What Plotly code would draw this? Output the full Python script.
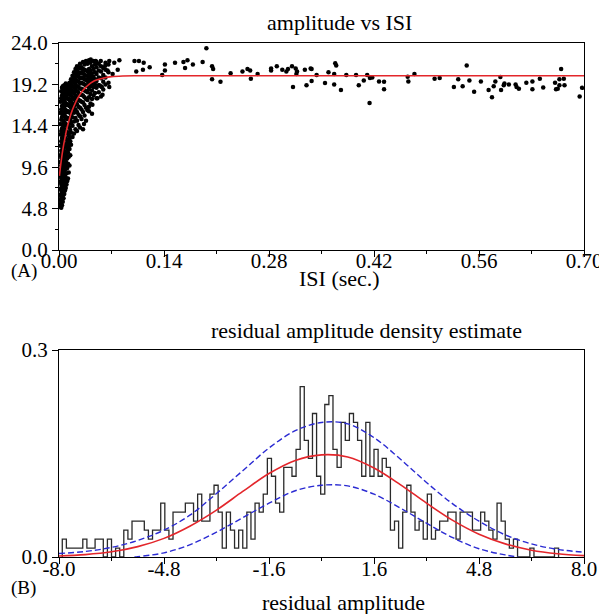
import plotly.graph_objects as go

# ---------------- Panel A data: amplitude vs ISI ----------------
cluster_isi = [0.002, 0.003, 0.004, 0.005, 0.006, 0.007, 0.008, 0.009, 0.010, 0.011,
               0.012, 0.013, 0.014, 0.015, 0.016, 0.018, 0.020, 0.022, 0.024, 0.026,
               0.028, 0.030, 0.032, 0.034, 0.036, 0.038, 0.040, 0.042, 0.044, 0.046,
               0.048, 0.050, 0.053, 0.056, 0.059, 0.062, 0.066]
cluster_amp = [
    [5.0, 5.3, 5.8, 6.4, 7.1, 7.9, 8.6, 9.3, 10.2, 11.0, 12.1, 13.4, 14.6, 15.9, 17.2],
    [4.9, 5.5, 6.1, 6.9, 7.6, 8.3, 9.0, 9.8, 10.7, 11.5, 12.6, 13.8, 15.1, 16.3, 17.6, 18.4],
    [5.2, 6.0, 6.7, 7.4, 8.1, 8.8, 9.6, 10.4, 11.3, 12.2, 13.0, 14.1, 15.4, 16.7, 17.9, 18.8],
    [5.6, 6.3, 7.2, 8.0, 8.7, 9.5, 10.1, 11.0, 11.8, 12.7, 13.6, 14.5, 15.6, 16.4, 17.3, 18.2, 19.0],
    [6.0, 6.8, 7.7, 8.5, 9.2, 10.0, 10.8, 11.6, 12.4, 13.3, 14.2, 15.0, 15.9, 16.9, 17.7, 18.5],
    [6.5, 7.3, 8.2, 9.0, 9.9, 10.6, 11.4, 12.3, 13.1, 14.0, 14.8, 15.7, 16.6, 17.4, 18.3, 19.1],
    [6.9, 7.8, 8.7, 9.6, 10.5, 11.3, 12.1, 13.0, 13.9, 14.7, 15.5, 16.3, 17.1, 18.0, 18.8],
    [7.2, 8.4, 9.4, 10.3, 11.2, 12.0, 12.9, 13.8, 14.6, 15.4, 16.2, 17.0, 17.8, 18.6, 19.3],
    [7.6, 8.9, 9.9, 11.0, 12.0, 12.8, 13.7, 14.5, 15.3, 16.1, 16.9, 17.7, 18.5, 19.2],
    [8.0, 9.5, 10.6, 11.7, 12.7, 13.6, 14.4, 15.2, 16.0, 16.8, 17.6, 18.4, 19.0],
    [8.3, 10.0, 11.3, 12.4, 13.5, 14.4, 15.3, 16.1, 16.9, 17.5, 18.1, 18.9],
    [9.0, 10.8, 12.1, 13.3, 14.3, 15.2, 16.0, 16.8, 17.5, 18.2, 18.8],
    [9.8, 11.7, 13.0, 14.2, 15.1, 16.0, 16.7, 17.4, 18.1, 18.7, 19.4],
    [11.0, 12.6, 13.9, 15.0, 15.9, 16.7, 17.4, 18.0, 18.6, 19.3],
    [12.2, 13.6, 14.7, 15.7, 16.5, 17.2, 17.9, 18.5, 19.1, 19.8],
    [13.1, 14.4, 15.4, 16.3, 17.0, 17.7, 18.4, 19.0, 19.6, 20.2],
    [13.5, 14.9, 15.9, 16.7, 17.5, 18.2, 18.8, 19.4, 20.0, 20.6],
    [14.0, 15.3, 16.3, 17.1, 17.9, 18.6, 19.2, 19.8, 20.4, 21.0],
    [13.8, 15.0, 16.0, 16.9, 17.7, 18.4, 19.0, 19.6, 20.2, 20.8, 21.3],
    [14.5, 15.7, 16.6, 17.4, 18.2, 18.9, 19.5, 20.1, 20.6, 21.2],
    [14.2, 15.5, 16.5, 17.3, 18.0, 18.7, 19.3, 19.9, 20.5, 21.1, 21.6],
    [15.2, 16.3, 17.2, 18.0, 18.7, 19.4, 20.0, 20.6, 21.2],
    [14.0, 16.0, 17.1, 17.9, 18.6, 19.3, 19.9, 20.5, 21.0, 21.8],
    [15.6, 16.8, 17.7, 18.5, 19.2, 19.8, 20.3, 20.9, 21.5],
    [15.0, 16.5, 17.5, 18.4, 19.1, 19.7, 20.2, 20.8, 21.9],
    [16.2, 17.4, 18.3, 19.0, 19.6, 20.2, 20.7, 21.6],
    [16.6, 17.7, 18.6, 19.3, 19.9, 20.4, 21.0, 22.0],
    [17.0, 18.1, 19.0, 19.6, 20.2, 20.8, 21.7],
    [15.8, 17.5, 18.5, 19.3, 19.9, 20.5, 21.3],
    [17.9, 18.9, 19.5, 20.1, 21.0, 21.9],
    [18.2, 19.2, 19.8, 20.6, 21.5],
    [17.6, 18.8, 19.6, 20.4, 21.2, 21.8],
    [18.3, 19.1, 20.0, 20.8, 21.6],
    [17.8, 19.0, 19.9, 20.7, 21.3],
    [18.6, 19.5, 20.3, 21.1],
    [19.2, 20.0, 20.9, 21.7],
    [19.4, 20.6, 21.5],
]

sparse_isi = [0.0423, 0.0490, 0.0557, 0.0670, 0.0737, 0.0805, 0.0616, 0.0647, 0.0715, 0.0783,
              0.0535, 0.0571, 0.0670, 0.0580, 0.0512, 0.0445, 0.0378, 0.0400, 0.0333,
              0.1007, 0.1066, 0.1129, 0.1030, 0.1119, 0.1209, 0.1412, 0.1412, 0.1376, 0.1547,
              0.1659, 0.1713, 0.1785, 0.1681, 0.1915, 0.1965, 0.2041, 0.2055, 0.2041, 0.2153,
              0.2288, 0.2446, 0.2513, 0.2549, 0.2558, 0.2648,
              0.2828, 0.2828, 0.2904, 0.2977, 0.3031, 0.3053, 0.3107, 0.3156, 0.3174, 0.3165,
              0.3278, 0.3355, 0.3368, 0.3435, 0.3593, 0.3669, 0.3683, 0.3696, 0.3831, 0.3961,
              0.4109, 0.4146, 0.4177, 0.3120, 0.3300, 0.3368, 0.3547, 0.3669, 0.3759, 0.3997,
              0.4064, 0.4267, 0.4334, 0.4334, 0.4141, 0.4649, 0.4658, 0.4739,
              0.5008, 0.5076, 0.5265, 0.5323, 0.5382, 0.5436, 0.5472, 0.5535, 0.5625, 0.5728,
              0.5773, 0.5796, 0.5818, 0.5885, 0.5894, 0.5930, 0.5939, 0.5998, 0.6088, 0.6101,
              0.6132, 0.6231, 0.6312, 0.6312, 0.6411, 0.6456, 0.6614, 0.6627, 0.6650, 0.6672,
              0.6695, 0.6731, 0.6740, 0.6672, 0.6942, 0.6974]
sparse_amp = [22.1, 21.9, 21.9, 21.9, 21.7, 22.0, 21.35, 20.8, 20.4, 20.9,
              19.1, 18.9, 18.9, 18.0, 17.6, 16.85, 16.5, 16.1, 14.6,
              21.9, 21.9, 21.7, 20.7, 20.9, 21.2, 21.5, 20.8, 20.3, 21.7,
              21.8, 22.0, 21.5, 21.1, 21.8, 23.4, 21.3, 21.0, 19.8, 19.5,
              20.5, 20.7, 21.0, 20.8, 19.85, 20.4,
              21.05, 20.8, 21.3, 20.9, 20.7, 21.0, 21.3, 21.05, 20.7, 20.4,
              20.9, 21.05, 21.0, 20.3, 20.6, 20.4, 21.65, 21.4, 20.3, 20.3,
              20.3, 19.95, 20.0, 18.9, 19.1, 19.6, 19.35, 19.2, 18.55, 19.1,
              19.65, 19.55, 19.5, 18.65, 17.05, 20.1, 19.55, 20.4,
              19.85, 19.95, 18.9, 19.8, 19.0, 21.4, 19.65, 18.35, 19.55, 18.55,
              17.7, 19.0, 19.55, 20.05, 18.55, 19.1, 19.3, 19.2, 19.2, 18.9,
              18.7, 19.4, 19.55, 18.65, 19.85, 18.85, 19.4, 18.65, 18.7, 19.8,
              21.0, 19.85, 19.1, 19.1, 17.8, 18.8]

fit_isi = [0.0005, 0.002, 0.004, 0.006, 0.008, 0.010, 0.013, 0.016, 0.020, 0.025,
           0.030, 0.035, 0.040, 0.045, 0.050, 0.060, 0.070, 0.085, 0.100, 0.700]
fit_amp = [8.6, 9.7, 11.0, 12.1, 13.0, 13.9, 14.9, 15.8, 16.7, 17.6,
           18.3, 18.8, 19.2, 19.5, 19.7, 19.95, 20.1, 20.18, 20.2, 20.2]

top_x_ticks = [0.0, 0.14, 0.28, 0.42, 0.56, 0.70]
top_x_labels = ["0.00", "0.14", "0.28", "0.42", "0.56", "0.70"]
top_y_ticks = [0.0, 4.8, 9.6, 14.4, 19.2, 24.0]
top_y_labels = ["0.0", "4.8", "9.6", "14.4", "19.2", "24.0"]

# ---------------- Panel B data: residual density ----------------
bin_start = -7.9
bin_width = 0.125
density_per_count = 0.013
hist_counts = [2, 1, 1, 1, 1, 2, 1, 1, 2, 2, 0, 2, 0, 1, 0, 3, 2, 4, 4, 4, 3, 2, 3, 3, 6, 3, 2, 5, 5, 5, 6,
               6, 4, 7, 4, 4, 7, 8, 5, 1, 5, 3, 1, 3, 1, 5, 2, 6, 5, 7, 11, 9, 6, 5, 10, 10, 9, 12, 19, 13, 11, 16, 9,
               7, 17, 18, 12, 10, 15, 13, 16, 15, 13, 9, 15, 9, 12, 9, 11, 10, 3, 4, 1, 5, 8, 5, 3, 4, 2, 7, 2, 3, 4, 4, 5,
               5, 2, 5, 5, 5, 3, 3, 5, 4, 3, 2, 6, 4, 2, 1, 2, 0, 0, 0, 1, 0, 0, 0, 0, 0, 1]

curve_x = [-8.0, -7.2, -6.4, -5.6, -4.8, -4.0, -3.2, -2.4, -1.6, -0.8, 0.0,
           0.8, 1.6, 2.4, 3.2, 4.0, 4.8, 5.6, 6.4, 7.2, 8.0]
normal_fit = [0.0015, 0.0035, 0.0075, 0.015, 0.027, 0.045, 0.068, 0.095, 0.121, 0.140, 0.148,
              0.145, 0.129, 0.105, 0.078, 0.053, 0.033, 0.019, 0.0098, 0.0047, 0.002]
band_upper = [0.005, 0.008, 0.014, 0.024, 0.039, 0.061, 0.092, 0.125, 0.158, 0.183, 0.195,
              0.193, 0.173, 0.142, 0.108, 0.077, 0.052, 0.032, 0.019, 0.011, 0.007]
lower_x = [-5.7, -5.6, -4.8, -4.0, -3.2, -2.4, -1.6, -0.8, 0.0, 0.8, 1.6, 2.4, 3.2, 4.0, 4.8, 5.6, 6.0]
band_lower = [0.0, 0.0005, 0.006, 0.018, 0.036, 0.057, 0.078, 0.096, 0.104, 0.103, 0.091,
              0.071, 0.049, 0.028, 0.012, 0.003, 0.0]

bot_x_ticks = [-8.0, -4.8, -1.6, 1.6, 4.8, 8.0]
bot_x_labels = ["-8.0", "-4.8", "-1.6", "1.6", "4.8", "8.0"]
bot_y_ticks = [0.0, 0.3]
bot_y_labels = ["0.0", "0.3"]

# ---------------- build traces ----------------
sc_x, sc_y = [], []
for xv, ys in zip(cluster_isi, cluster_amp):
    for yv in ys:
        sc_x.append(xv)
        sc_y.append(yv)
sc_x += sparse_isi
sc_y += sparse_amp

n = len(hist_counts)
edges = [bin_start + i * bin_width for i in range(n + 1)]
heights = [c * density_per_count for c in hist_counts]
hx = [edges[0]] + edges[:n] + [edges[n]]
hy = [0.0] + heights + [0.0]

RED = "#e3262b"
BLUE = "#2a2ad2"

fig = go.Figure()
fig.add_trace(go.Scatter(x=sc_x, y=sc_y, mode="markers", xaxis="x", yaxis="y",
                         marker=dict(color="black", size=4.5, line=dict(width=0))))
fig.add_trace(go.Scatter(x=fit_isi, y=fit_amp, mode="lines", xaxis="x", yaxis="y",
                         line=dict(color=RED, width=1.6, shape="spline", smoothing=0.6)))

fig.add_trace(go.Scatter(x=hx, y=hy, mode="lines", xaxis="x2", yaxis="y2",
                         line=dict(color="#2a2a2a", width=1.3, shape="hv")))
fig.add_trace(go.Scatter(x=curve_x, y=band_upper, mode="lines", xaxis="x2", yaxis="y2",
                         line=dict(color=BLUE, width=1.4, dash="6px,3px", shape="spline")))
fig.add_trace(go.Scatter(x=lower_x, y=band_lower, mode="lines", xaxis="x2", yaxis="y2",
                         line=dict(color=BLUE, width=1.4, dash="6px,3px", shape="spline")))
fig.add_trace(go.Scatter(x=curve_x, y=normal_fit, mode="lines", xaxis="x2", yaxis="y2",
                         line=dict(color=RED, width=1.6, shape="spline")))

W, H = 607, 614
ML, MR, MT, MB = 51, 31, 35, 65
PW, PH = W - ML - MR, H - MT - MB


def py(pix):
    return (H - MB - pix) / PH


def px(pix):
    return (pix - ML) / PW


TICKFONT = dict(family="Liberation Serif", size=21, color="black")
axis_common = dict(showline=True, mirror=True, linecolor="black", linewidth=1,
                   ticks="outside", ticklen=6, tickwidth=1, tickcolor="black",
                   showgrid=False, zeroline=False, tickmode="array", tickfont=TICKFONT,
                   automargin=False)

fig.update_layout(
    width=W, height=H,
    margin=dict(l=ML, r=MR, t=MT, b=MB, autoexpand=False),
    paper_bgcolor="white", plot_bgcolor="white", showlegend=False,
    font=dict(family="Liberation Serif", size=21, color="black"),
    xaxis=dict(domain=[0, 1], anchor="y", range=[0, 0.70], tickvals=top_x_ticks, ticktext=top_x_labels,
               ticklabelstandoff=-14,
               minor=dict(ticks="outside", ticklen=3, tickcolor="black",
                          tickvals=[0.07, 0.21, 0.35, 0.49, 0.63]), **axis_common),
    yaxis=dict(domain=[py(242), 1], anchor="x", range=[0, 24], tickvals=top_y_ticks, ticktext=top_y_labels,
               minor=dict(ticks="outside", ticklen=3, tickcolor="black",
                          tickvals=[2.4, 7.2, 12.0, 16.8, 21.6]), **axis_common),
    xaxis2=dict(domain=[0, 1], anchor="y2", range=[-8, 8], tickvals=bot_x_ticks, ticktext=bot_x_labels,
                ticklabelstandoff=-13,
                minor=dict(ticks="outside", ticklen=3, tickcolor="black",
                           tickvals=[-6.4, -3.2, 0.0, 3.2, 6.4]), **axis_common),
    yaxis2=dict(domain=[0, py(342)], anchor="x2", range=[0, 0.3], tickvals=bot_y_ticks, ticktext=bot_y_labels,
                **axis_common),
)

ann_font = dict(family="Liberation Serif", size=22, color="black")
panel_font = dict(family="Liberation Serif", size=19, color="black")
texts = [
    ("ISI (sec.)", 331, 270, "center", "middle", ann_font),
    ("(A)", 1, 263, "left", "middle", panel_font),
    ("residual amplitude density estimate", 358, 322, "center", "middle", ann_font),
    ("residual amplitude", 335, 594, "center", "middle", ann_font),
    ("(B)", 1, 580, "left", "middle", panel_font),
    ("amplitude vs ISI", 331, 0, "center", "top", ann_font),
]
for t, xpix, ypix, xa, ya, f in texts:
    fig.add_annotation(text=t, x=px(xpix), y=py(ypix), xref="paper", yref="paper",
                       xanchor=xa, yanchor=ya, showarrow=False, font=f)

fig.write_html("out.html")
